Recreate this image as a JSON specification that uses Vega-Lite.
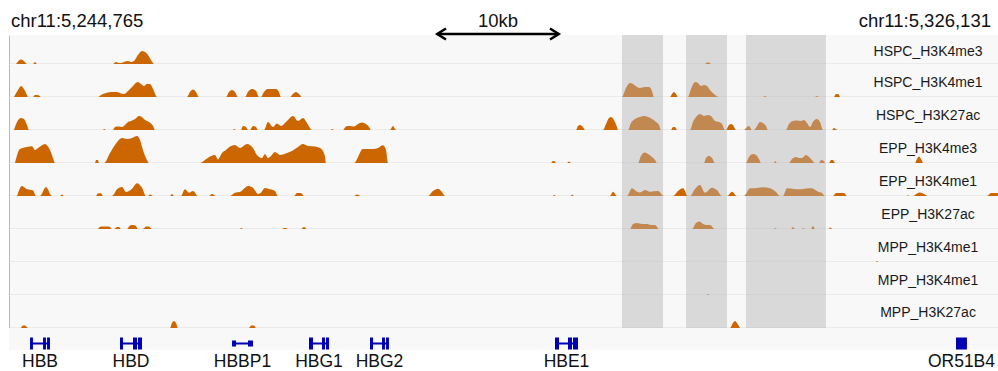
{
  "$schema": "https://vega.github.io/schema/vega-lite/v6.json",
  "background": "white",
  "padding": {"left": 9, "top": 0, "right": 0, "bottom": 0},
  "config": {
    "view": {"stroke": null},
    "font": "Liberation Sans",
    "text": {"font": "Liberation Sans"},
    "axis": {"ticks": false, "labels": false, "grid": false, "domain": true},
    "axisX": {"domainColor": "#c4c4c4", "domainWidth": 1.5},
    "axisY": {"domainColor": "#b8b8b8", "domainWidth": 1},
    "area": {"interpolate": "monotone", "color": "#cc6600", "opacity": 1}
  },
  "datasets": {
    "highlights": [
      {"start": 50.43, "end": 53.81},
      {"start": 55.70, "end": 59.07},
      {"start": 60.63, "end": 67.21}
    ],
    "scalebar": [{"bar": "10kb", "start": 35.23, "end": 45.23}],
    "labels": [
      {"r": 1, "label": "HSPC_H3K4me3"},
      {"r": 2, "label": "HSPC_H3K4me1"},
      {"r": 3, "label": "HSPC_H3K27ac"},
      {"r": 4, "label": "EPP_H3K4me3"},
      {"r": 5, "label": "EPP_H3K4me1"},
      {"r": 6, "label": "EPP_H3K27ac"},
      {"r": 7, "label": "MPP_H3K4me1"},
      {"r": 8, "label": "MPP_H3K4me1"},
      {"r": 9, "label": "MPP_H3K27ac"}
    ],
    "genes": [
      {"gene": "HBB", "start": 1.73, "end": 3.37},
      {"gene": "HBD", "start": 9.13, "end": 10.94},
      {"gene": "HBBP1", "start": 18.35, "end": 20.07},
      {"gene": "HBG1", "start": 24.68, "end": 26.33},
      {"gene": "HBG2", "start": 29.70, "end": 31.26},
      {"gene": "HBE1", "start": 44.92, "end": 46.81},
      {"gene": "OR51B4", "start": 77.91, "end": 78.81}
    ],
    "exons": [
      {"gene": "HBB", "start": 1.73, "end": 1.97, "pseudo": false},
      {"gene": "HBB", "start": 2.80, "end": 3.04, "pseudo": false},
      {"gene": "HBB", "start": 3.13, "end": 3.37, "pseudo": false},
      {"gene": "HBD", "start": 9.13, "end": 9.38, "pseudo": false},
      {"gene": "HBD", "start": 10.20, "end": 10.53, "pseudo": false},
      {"gene": "HBD", "start": 10.61, "end": 10.94, "pseudo": false},
      {"gene": "HBBP1", "start": 18.35, "end": 18.68, "pseudo": true},
      {"gene": "HBBP1", "start": 19.66, "end": 20.07, "pseudo": true},
      {"gene": "HBG1", "start": 24.68, "end": 25.01, "pseudo": false},
      {"gene": "HBG1", "start": 25.75, "end": 26.00, "pseudo": false},
      {"gene": "HBG1", "start": 26.08, "end": 26.33, "pseudo": false},
      {"gene": "HBG2", "start": 29.70, "end": 29.95, "pseudo": false},
      {"gene": "HBG2", "start": 30.69, "end": 30.93, "pseudo": false},
      {"gene": "HBG2", "start": 31.02, "end": 31.26, "pseudo": false},
      {"gene": "HBE1", "start": 44.92, "end": 45.25, "pseudo": false},
      {"gene": "HBE1", "start": 45.99, "end": 46.32, "pseudo": false},
      {"gene": "HBE1", "start": 46.40, "end": 46.81, "pseudo": false},
      {"gene": "OR51B4", "start": 77.91, "end": 78.81, "pseudo": false}
    ],
    "sig": [
      {"r":1,"kb":0.58,"v":0},{"r":1,"kb":0.82,"v":3.5},{"r":1,"kb":0.99,"v":4.5},{"r":1,"kb":1.23,"v":3},{"r":1,"kb":1.48,"v":0},
      {"r":1,"kb":1.97,"v":0},{"r":1,"kb":2.14,"v":2},{"r":1,"kb":2.30,"v":0},
      {"r":1,"kb":8.56,"v":0},{"r":1,"kb":8.80,"v":2},{"r":1,"kb":9.05,"v":1},{"r":1,"kb":9.21,"v":1},{"r":1,"kb":9.54,"v":2.5},{"r":1,"kb":9.79,"v":3},{"r":1,"kb":10.04,"v":2},{"r":1,"kb":10.28,"v":3},{"r":1,"kb":10.61,"v":9},{"r":1,"kb":10.94,"v":13},{"r":1,"kb":11.19,"v":12},{"r":1,"kb":11.44,"v":9},{"r":1,"kb":11.68,"v":4},{"r":1,"kb":11.93,"v":0},
      {"r":1,"kb":57.26,"v":0},{"r":1,"kb":57.42,"v":1.5},{"r":1,"kb":57.59,"v":1.5},{"r":1,"kb":57.75,"v":0},

      {"r":2,"kb":0.41,"v":0},{"r":2,"kb":0.74,"v":7},{"r":2,"kb":0.99,"v":11},{"r":2,"kb":1.23,"v":8},{"r":2,"kb":1.48,"v":2},{"r":2,"kb":1.56,"v":0},
      {"r":2,"kb":1.97,"v":0},{"r":2,"kb":2.14,"v":2},{"r":2,"kb":2.47,"v":1.5},{"r":2,"kb":2.63,"v":0},
      {"r":2,"kb":7.32,"v":0},{"r":2,"kb":7.57,"v":2},{"r":2,"kb":7.98,"v":4},{"r":2,"kb":8.47,"v":5},{"r":2,"kb":8.89,"v":5},{"r":2,"kb":9.21,"v":3.5},{"r":2,"kb":9.46,"v":3},{"r":2,"kb":9.79,"v":6},{"r":2,"kb":10.12,"v":10},{"r":2,"kb":10.61,"v":15},{"r":2,"kb":10.86,"v":13},{"r":2,"kb":11.11,"v":11},{"r":2,"kb":11.35,"v":13},{"r":2,"kb":11.60,"v":13},{"r":2,"kb":11.85,"v":8},{"r":2,"kb":12.18,"v":0},
      {"r":2,"kb":14.64,"v":0},{"r":2,"kb":14.89,"v":5},{"r":2,"kb":15.14,"v":7.5},{"r":2,"kb":15.38,"v":5},{"r":2,"kb":15.63,"v":0},
      {"r":2,"kb":17.85,"v":0},{"r":2,"kb":18.10,"v":5},{"r":2,"kb":18.35,"v":7},{"r":2,"kb":18.59,"v":5},{"r":2,"kb":18.84,"v":0},
      {"r":2,"kb":19.42,"v":0},{"r":2,"kb":19.66,"v":5},{"r":2,"kb":19.99,"v":8},{"r":2,"kb":20.32,"v":6},{"r":2,"kb":20.57,"v":0},
      {"r":2,"kb":20.73,"v":0},{"r":2,"kb":20.98,"v":5},{"r":2,"kb":21.31,"v":8},{"r":2,"kb":21.64,"v":8},{"r":2,"kb":21.97,"v":8},{"r":2,"kb":22.21,"v":5},{"r":2,"kb":22.38,"v":0},
      {"r":2,"kb":23.12,"v":0},{"r":2,"kb":23.36,"v":3},{"r":2,"kb":23.61,"v":5},{"r":2,"kb":23.86,"v":3},{"r":2,"kb":24.10,"v":0},
      {"r":2,"kb":50.43,"v":0},{"r":2,"kb":50.76,"v":9},{"r":2,"kb":51.09,"v":14},{"r":2,"kb":51.34,"v":13},{"r":2,"kb":51.67,"v":10},{"r":2,"kb":51.91,"v":9},{"r":2,"kb":52.32,"v":10},{"r":2,"kb":52.65,"v":10},{"r":2,"kb":52.90,"v":6},{"r":2,"kb":53.06,"v":0},
      {"r":2,"kb":54.38,"v":0},{"r":2,"kb":54.55,"v":3},{"r":2,"kb":54.71,"v":5},{"r":2,"kb":54.87,"v":3},{"r":2,"kb":55.04,"v":0},
      {"r":2,"kb":55.86,"v":0},{"r":2,"kb":56.11,"v":8},{"r":2,"kb":56.44,"v":15},{"r":2,"kb":56.68,"v":14},{"r":2,"kb":56.93,"v":11},{"r":2,"kb":57.18,"v":12},{"r":2,"kb":57.42,"v":11},{"r":2,"kb":57.67,"v":7},{"r":2,"kb":58.00,"v":3},{"r":2,"kb":58.41,"v":0},
      {"r":2,"kb":62.03,"v":0},{"r":2,"kb":62.20,"v":1},{"r":2,"kb":62.36,"v":0},
      {"r":2,"kb":66.31,"v":0},{"r":2,"kb":66.47,"v":1},{"r":2,"kb":66.64,"v":0},
      {"r":2,"kb":67.87,"v":0},{"r":2,"kb":68.04,"v":3},{"r":2,"kb":68.20,"v":3},{"r":2,"kb":68.37,"v":0},

      {"r":3,"kb":0.41,"v":0},{"r":3,"kb":0.66,"v":8},{"r":3,"kb":0.99,"v":12},{"r":3,"kb":1.23,"v":11},{"r":3,"kb":1.48,"v":5},{"r":3,"kb":1.65,"v":0},
      {"r":3,"kb":7.73,"v":0},{"r":3,"kb":7.82,"v":1},{"r":3,"kb":7.98,"v":0},
      {"r":3,"kb":8.56,"v":0},{"r":3,"kb":8.72,"v":3},{"r":3,"kb":9.05,"v":3.5},{"r":3,"kb":9.30,"v":3},{"r":3,"kb":9.54,"v":5},{"r":3,"kb":9.79,"v":8},{"r":3,"kb":10.04,"v":9},{"r":3,"kb":10.37,"v":11},{"r":3,"kb":10.70,"v":14},{"r":3,"kb":10.94,"v":13},{"r":3,"kb":11.19,"v":10},{"r":3,"kb":11.52,"v":8},{"r":3,"kb":11.85,"v":4},{"r":3,"kb":12.01,"v":0},
      {"r":3,"kb":18.43,"v":0},{"r":3,"kb":18.51,"v":1},{"r":3,"kb":18.68,"v":0},
      {"r":3,"kb":19.09,"v":0},{"r":3,"kb":19.25,"v":4},{"r":3,"kb":19.50,"v":3},{"r":3,"kb":19.66,"v":0},
      {"r":3,"kb":19.83,"v":0},{"r":3,"kb":20.07,"v":4},{"r":3,"kb":20.32,"v":3},{"r":3,"kb":20.48,"v":0},
      {"r":3,"kb":20.98,"v":0},{"r":3,"kb":21.31,"v":8},{"r":3,"kb":21.72,"v":3},{"r":3,"kb":22.05,"v":6.5},{"r":3,"kb":22.38,"v":4},{"r":3,"kb":22.87,"v":9},{"r":3,"kb":23.36,"v":14},{"r":3,"kb":23.78,"v":9},{"r":3,"kb":24.19,"v":12},{"r":3,"kb":24.52,"v":7},{"r":3,"kb":24.93,"v":0},
      {"r":3,"kb":26.49,"v":0},{"r":3,"kb":26.57,"v":1},{"r":3,"kb":26.74,"v":0},
      {"r":3,"kb":27.48,"v":0},{"r":3,"kb":27.72,"v":3.5},{"r":3,"kb":28.05,"v":4},{"r":3,"kb":28.38,"v":3.5},{"r":3,"kb":28.71,"v":6},{"r":3,"kb":29.04,"v":7.5},{"r":3,"kb":29.37,"v":6},{"r":3,"kb":29.62,"v":3},{"r":3,"kb":29.78,"v":0},
      {"r":3,"kb":31.34,"v":0},{"r":3,"kb":31.59,"v":4},{"r":3,"kb":31.84,"v":0},
      {"r":3,"kb":46.65,"v":0},{"r":3,"kb":46.81,"v":4},{"r":3,"kb":46.98,"v":5},{"r":3,"kb":47.22,"v":3},{"r":3,"kb":47.39,"v":0},
      {"r":3,"kb":48.87,"v":0},{"r":3,"kb":49.12,"v":6},{"r":3,"kb":49.36,"v":12},{"r":3,"kb":49.53,"v":13},{"r":3,"kb":49.77,"v":10},{"r":3,"kb":50.02,"v":3},{"r":3,"kb":50.10,"v":0},
      {"r":3,"kb":50.93,"v":0},{"r":3,"kb":51.17,"v":7},{"r":3,"kb":51.50,"v":11},{"r":3,"kb":51.91,"v":13},{"r":3,"kb":52.24,"v":14},{"r":3,"kb":52.57,"v":13},{"r":3,"kb":52.90,"v":11},{"r":3,"kb":53.23,"v":8},{"r":3,"kb":53.48,"v":5},{"r":3,"kb":53.64,"v":0},
      {"r":3,"kb":54.46,"v":0},{"r":3,"kb":54.63,"v":3},{"r":3,"kb":54.79,"v":3},{"r":3,"kb":54.96,"v":0},
      {"r":3,"kb":56.03,"v":0},{"r":3,"kb":56.27,"v":8},{"r":3,"kb":56.60,"v":14},{"r":3,"kb":56.85,"v":16},{"r":3,"kb":57.18,"v":14},{"r":3,"kb":57.51,"v":15},{"r":3,"kb":57.75,"v":14},{"r":3,"kb":58.08,"v":9},{"r":3,"kb":58.41,"v":8},{"r":3,"kb":58.66,"v":6},{"r":3,"kb":58.91,"v":0},
      {"r":3,"kb":58.99,"v":0},{"r":3,"kb":59.23,"v":5},{"r":3,"kb":59.40,"v":6},{"r":3,"kb":59.56,"v":5},{"r":3,"kb":59.81,"v":0},
      {"r":3,"kb":60.47,"v":0},{"r":3,"kb":60.72,"v":3},{"r":3,"kb":60.88,"v":4},{"r":3,"kb":61.13,"v":0},
      {"r":3,"kb":61.29,"v":0},{"r":3,"kb":61.54,"v":4},{"r":3,"kb":61.78,"v":8},{"r":3,"kb":62.03,"v":7},{"r":3,"kb":62.28,"v":4},{"r":3,"kb":62.44,"v":0},
      {"r":3,"kb":63.92,"v":0},{"r":3,"kb":64.17,"v":6},{"r":3,"kb":64.50,"v":9},{"r":3,"kb":64.83,"v":9.5},{"r":3,"kb":65.16,"v":9},{"r":3,"kb":65.40,"v":10},{"r":3,"kb":65.65,"v":7},{"r":3,"kb":65.90,"v":3},{"r":3,"kb":66.14,"v":8},{"r":3,"kb":66.47,"v":11},{"r":3,"kb":66.72,"v":8},{"r":3,"kb":66.97,"v":0},
      {"r":3,"kb":67.71,"v":0},{"r":3,"kb":67.87,"v":2},{"r":3,"kb":68.12,"v":0},

      {"r":4,"kb":0.49,"v":0},{"r":4,"kb":0.90,"v":14},{"r":4,"kb":1.48,"v":16},{"r":4,"kb":1.89,"v":16.7},{"r":4,"kb":2.14,"v":13},{"r":4,"kb":2.39,"v":15},{"r":4,"kb":2.96,"v":19},{"r":4,"kb":3.37,"v":13},{"r":4,"kb":3.62,"v":5},{"r":4,"kb":3.78,"v":0},
      {"r":4,"kb":7.08,"v":0},{"r":4,"kb":7.16,"v":3},{"r":4,"kb":7.32,"v":3},{"r":4,"kb":7.40,"v":0},
      {"r":4,"kb":7.82,"v":0},{"r":4,"kb":8.31,"v":10},{"r":4,"kb":8.72,"v":18},{"r":4,"kb":9.30,"v":25},{"r":4,"kb":9.71,"v":24},{"r":4,"kb":10.12,"v":25},{"r":4,"kb":10.53,"v":27},{"r":4,"kb":10.78,"v":23},{"r":4,"kb":11.02,"v":13},{"r":4,"kb":11.35,"v":3},{"r":4,"kb":11.52,"v":0},
      {"r":4,"kb":15.71,"v":0},{"r":4,"kb":16.12,"v":3},{"r":4,"kb":16.54,"v":6.5},{"r":4,"kb":16.95,"v":8},{"r":4,"kb":17.19,"v":3.5},{"r":4,"kb":17.52,"v":10},{"r":4,"kb":17.85,"v":13},{"r":4,"kb":18.18,"v":16.5},{"r":4,"kb":18.59,"v":18},{"r":4,"kb":19.00,"v":15},{"r":4,"kb":19.58,"v":19},{"r":4,"kb":20.07,"v":15},{"r":4,"kb":20.40,"v":8},{"r":4,"kb":20.81,"v":5},{"r":4,"kb":21.06,"v":9},{"r":4,"kb":21.31,"v":5},{"r":4,"kb":21.55,"v":7},{"r":4,"kb":21.88,"v":11},{"r":4,"kb":22.30,"v":8},{"r":4,"kb":22.87,"v":10},{"r":4,"kb":23.28,"v":12},{"r":4,"kb":23.78,"v":16},{"r":4,"kb":24.19,"v":19},{"r":4,"kb":24.60,"v":17},{"r":4,"kb":25.17,"v":16.5},{"r":4,"kb":25.59,"v":15},{"r":4,"kb":25.83,"v":12},{"r":4,"kb":26.00,"v":6},{"r":4,"kb":26.08,"v":0},
      {"r":4,"kb":28.38,"v":0},{"r":4,"kb":29.12,"v":14},{"r":4,"kb":29.95,"v":14},{"r":4,"kb":30.36,"v":15},{"r":4,"kb":30.77,"v":17.7},{"r":4,"kb":31.02,"v":13},{"r":4,"kb":31.18,"v":0},
      {"r":4,"kb":44.59,"v":0},{"r":4,"kb":44.75,"v":2},{"r":4,"kb":44.92,"v":1.5},{"r":4,"kb":45.00,"v":0},
      {"r":4,"kb":45.91,"v":0},{"r":4,"kb":46.07,"v":1.5},{"r":4,"kb":46.24,"v":0},
      {"r":4,"kb":51.75,"v":0},{"r":4,"kb":51.99,"v":7},{"r":4,"kb":52.32,"v":10.5},{"r":4,"kb":52.57,"v":9},{"r":4,"kb":52.90,"v":6},{"r":4,"kb":53.15,"v":3},{"r":4,"kb":53.31,"v":0},
      {"r":4,"kb":57.18,"v":0},{"r":4,"kb":57.34,"v":5},{"r":4,"kb":57.59,"v":7},{"r":4,"kb":57.84,"v":5},{"r":4,"kb":58.08,"v":0},
      {"r":4,"kb":60.63,"v":0},{"r":4,"kb":60.88,"v":6},{"r":4,"kb":61.21,"v":9},{"r":4,"kb":61.46,"v":8},{"r":4,"kb":61.70,"v":4},{"r":4,"kb":61.87,"v":0},
      {"r":4,"kb":62.94,"v":0},{"r":4,"kb":63.02,"v":2},{"r":4,"kb":63.18,"v":0},
      {"r":4,"kb":64.17,"v":0},{"r":4,"kb":64.42,"v":4},{"r":4,"kb":64.75,"v":6},{"r":4,"kb":64.99,"v":5},{"r":4,"kb":65.24,"v":5},{"r":4,"kb":65.57,"v":8},{"r":4,"kb":65.82,"v":6},{"r":4,"kb":66.06,"v":3},{"r":4,"kb":66.31,"v":0},
      {"r":4,"kb":66.64,"v":0},{"r":4,"kb":66.80,"v":3},{"r":4,"kb":67.05,"v":2},{"r":4,"kb":67.13,"v":0},
      {"r":4,"kb":67.46,"v":0},{"r":4,"kb":67.63,"v":3},{"r":4,"kb":67.79,"v":3},{"r":4,"kb":67.96,"v":0},
      {"r":4,"kb":74.54,"v":0},{"r":4,"kb":74.70,"v":4},{"r":4,"kb":74.87,"v":6.5},{"r":4,"kb":75.03,"v":4},{"r":4,"kb":75.19,"v":0},

      {"r":5,"kb":0.66,"v":0},{"r":5,"kb":1.07,"v":10},{"r":5,"kb":1.48,"v":6.7},{"r":5,"kb":1.97,"v":5.7},{"r":5,"kb":2.22,"v":0},
      {"r":5,"kb":2.55,"v":0},{"r":5,"kb":3.04,"v":9},{"r":5,"kb":3.54,"v":0},
      {"r":5,"kb":4.20,"v":0},{"r":5,"kb":4.36,"v":1.5},{"r":5,"kb":4.52,"v":0},
      {"r":5,"kb":7.16,"v":0},{"r":5,"kb":7.32,"v":2.7},{"r":5,"kb":7.57,"v":2.7},{"r":5,"kb":7.73,"v":0},
      {"r":5,"kb":8.47,"v":0},{"r":5,"kb":8.89,"v":6.7},{"r":5,"kb":9.30,"v":9},{"r":5,"kb":9.63,"v":4},{"r":5,"kb":10.12,"v":7.3},{"r":5,"kb":10.53,"v":12.7},{"r":5,"kb":10.94,"v":8.3},{"r":5,"kb":11.27,"v":0},
      {"r":5,"kb":11.44,"v":0},{"r":5,"kb":11.60,"v":1.5},{"r":5,"kb":11.85,"v":0},
      {"r":5,"kb":13.25,"v":0},{"r":5,"kb":13.41,"v":2},{"r":5,"kb":13.57,"v":0},
      {"r":5,"kb":14.15,"v":0},{"r":5,"kb":14.48,"v":6.7},{"r":5,"kb":14.81,"v":3.3},{"r":5,"kb":15.14,"v":5},{"r":5,"kb":15.55,"v":0},
      {"r":5,"kb":16.45,"v":0},{"r":5,"kb":16.70,"v":2},{"r":5,"kb":17.03,"v":0},
      {"r":5,"kb":18.18,"v":0},{"r":5,"kb":18.59,"v":3.3},{"r":5,"kb":19.00,"v":4},{"r":5,"kb":19.42,"v":8.3},{"r":5,"kb":19.66,"v":10},{"r":5,"kb":20.07,"v":8.3},{"r":5,"kb":20.48,"v":2},{"r":5,"kb":20.73,"v":3.3},{"r":5,"kb":21.06,"v":8},{"r":5,"kb":21.47,"v":6.7},{"r":5,"kb":21.88,"v":5},{"r":5,"kb":22.13,"v":0},
      {"r":5,"kb":23.45,"v":0},{"r":5,"kb":23.69,"v":3},{"r":5,"kb":24.02,"v":3},{"r":5,"kb":24.27,"v":0},
      {"r":5,"kb":28.38,"v":0},{"r":5,"kb":28.63,"v":1.5},{"r":5,"kb":28.96,"v":0},
      {"r":5,"kb":34.47,"v":0},{"r":5,"kb":34.88,"v":5},{"r":5,"kb":35.29,"v":7.3},{"r":5,"kb":35.62,"v":4},{"r":5,"kb":35.87,"v":0},
      {"r":5,"kb":44.75,"v":0},{"r":5,"kb":44.84,"v":1},{"r":5,"kb":45.00,"v":0},
      {"r":5,"kb":46.24,"v":0},{"r":5,"kb":46.32,"v":1.5},{"r":5,"kb":46.48,"v":0},
      {"r":5,"kb":49.44,"v":0},{"r":5,"kb":49.69,"v":4.3},{"r":5,"kb":50.02,"v":0},
      {"r":5,"kb":50.84,"v":0},{"r":5,"kb":51.25,"v":7.7},{"r":5,"kb":51.67,"v":4.3},{"r":5,"kb":51.91,"v":3.5},{"r":5,"kb":52.32,"v":6},{"r":5,"kb":52.74,"v":4.3},{"r":5,"kb":53.39,"v":5},{"r":5,"kb":53.89,"v":0},
      {"r":5,"kb":54.63,"v":0},{"r":5,"kb":55.04,"v":5},{"r":5,"kb":55.45,"v":7.7},{"r":5,"kb":55.86,"v":0},
      {"r":5,"kb":56.03,"v":0},{"r":5,"kb":56.44,"v":7},{"r":5,"kb":56.85,"v":11},{"r":5,"kb":57.26,"v":3.3},{"r":5,"kb":57.84,"v":8.3},{"r":5,"kb":58.24,"v":6},{"r":5,"kb":58.66,"v":0},
      {"r":5,"kb":59.07,"v":0},{"r":5,"kb":59.48,"v":4.3},{"r":5,"kb":59.89,"v":0},
      {"r":5,"kb":60.47,"v":0},{"r":5,"kb":60.96,"v":7.7},{"r":5,"kb":61.54,"v":8},{"r":5,"kb":62.03,"v":8.7},{"r":5,"kb":62.61,"v":7.7},{"r":5,"kb":63.10,"v":4},{"r":5,"kb":63.43,"v":0},
      {"r":5,"kb":63.68,"v":0},{"r":5,"kb":64.01,"v":7.7},{"r":5,"kb":64.58,"v":7},{"r":5,"kb":65.08,"v":6.7},{"r":5,"kb":65.57,"v":7.5},{"r":5,"kb":66.06,"v":7.7},{"r":5,"kb":66.56,"v":4.3},{"r":5,"kb":66.89,"v":3},{"r":5,"kb":67.13,"v":0},
      {"r":5,"kb":67.79,"v":0},{"r":5,"kb":68.04,"v":3},{"r":5,"kb":68.70,"v":3},{"r":5,"kb":68.94,"v":0},
      {"r":5,"kb":73.88,"v":0},{"r":5,"kb":73.96,"v":1},{"r":5,"kb":74.04,"v":0},
      {"r":5,"kb":74.37,"v":0},{"r":5,"kb":74.70,"v":2.5},{"r":5,"kb":74.95,"v":3.5},{"r":5,"kb":75.28,"v":2},{"r":5,"kb":75.61,"v":0},
      {"r":5,"kb":80.46,"v":0},{"r":5,"kb":80.79,"v":3},{"r":5,"kb":81.36,"v":3},

      {"r":6,"kb":7.32,"v":0},{"r":6,"kb":7.57,"v":2.5},{"r":6,"kb":7.98,"v":2.5},{"r":6,"kb":8.31,"v":2},{"r":6,"kb":8.47,"v":0},
      {"r":6,"kb":8.64,"v":0},{"r":6,"kb":8.89,"v":2},{"r":6,"kb":9.05,"v":2},{"r":6,"kb":9.21,"v":0},
      {"r":6,"kb":9.71,"v":0},{"r":6,"kb":9.95,"v":3.5},{"r":6,"kb":10.20,"v":4},{"r":6,"kb":10.45,"v":3},{"r":6,"kb":10.61,"v":0},
      {"r":6,"kb":11.02,"v":0},{"r":6,"kb":11.27,"v":2.5},{"r":6,"kb":11.52,"v":2.5},{"r":6,"kb":11.76,"v":0},
      {"r":6,"kb":19.00,"v":0},{"r":6,"kb":19.09,"v":1},{"r":6,"kb":19.25,"v":0},
      {"r":6,"kb":22.46,"v":0},{"r":6,"kb":22.62,"v":1},{"r":6,"kb":22.79,"v":1},{"r":6,"kb":22.95,"v":0},
      {"r":6,"kb":24.02,"v":0},{"r":6,"kb":24.27,"v":2},{"r":6,"kb":24.52,"v":0},
      {"r":6,"kb":51.09,"v":0},{"r":6,"kb":51.34,"v":5},{"r":6,"kb":51.67,"v":6},{"r":6,"kb":52.08,"v":5},{"r":6,"kb":52.49,"v":5},{"r":6,"kb":52.82,"v":4},{"r":6,"kb":53.15,"v":4},{"r":6,"kb":53.48,"v":0},
      {"r":6,"kb":56.19,"v":0},{"r":6,"kb":56.52,"v":6},{"r":6,"kb":56.77,"v":7.5},{"r":6,"kb":57.10,"v":5},{"r":6,"kb":57.42,"v":4},{"r":6,"kb":57.67,"v":4},{"r":6,"kb":58.08,"v":0},
      {"r":6,"kb":62.94,"v":0},{"r":6,"kb":63.02,"v":1},{"r":6,"kb":63.18,"v":0},
      {"r":6,"kb":64.34,"v":0},{"r":6,"kb":64.50,"v":2},{"r":6,"kb":64.66,"v":0},
      {"r":6,"kb":65.24,"v":0},{"r":6,"kb":65.32,"v":1},{"r":6,"kb":65.49,"v":0},
      {"r":6,"kb":65.98,"v":0},{"r":6,"kb":66.14,"v":3},{"r":6,"kb":66.31,"v":0},
      {"r":6,"kb":67.46,"v":0},{"r":6,"kb":67.54,"v":1.5},{"r":6,"kb":67.71,"v":0},

      {"r":7,"kb":71.33,"v":0},{"r":7,"kb":71.41,"v":1},{"r":7,"kb":71.49,"v":0},

      {"r":8,"kb":57.42,"v":0},{"r":8,"kb":57.51,"v":1},{"r":8,"kb":57.59,"v":0},

      {"r":9,"kb":0.99,"v":0},{"r":9,"kb":1.15,"v":2.5},{"r":9,"kb":1.32,"v":2.5},{"r":9,"kb":1.56,"v":0},
      {"r":9,"kb":13.25,"v":0},{"r":9,"kb":13.41,"v":5},{"r":9,"kb":13.57,"v":7},{"r":9,"kb":13.74,"v":5},{"r":9,"kb":13.90,"v":0},
      {"r":9,"kb":19.74,"v":0},{"r":9,"kb":19.91,"v":2.5},{"r":9,"kb":20.16,"v":2.5},{"r":9,"kb":20.32,"v":0},
      {"r":9,"kb":59.32,"v":0},{"r":9,"kb":59.56,"v":5},{"r":9,"kb":59.73,"v":7},{"r":9,"kb":59.89,"v":5},{"r":9,"kb":60.14,"v":0}
    ]
  },
  "spacing": 0,
  "bounds": "flush",
  "resolve": {"scale": {"x": "independent", "y": "independent"}},
  "vconcat": [
    {
      "width": 989, "height": 35,
      "view": {"fill": "white", "stroke": null},
      "layer": [
        {
          "data": {"values": [{"label": "chr11:5,244,765", "kb": 0}]},
          "mark": {"type": "text", "align": "left", "baseline": "alphabetic", "fontSize": 18.5, "dx": 2, "color": "#111111"},
          "encoding": {
            "x": {"field": "kb", "type": "quantitative", "scale": {"domain": [0, 81.366], "nice": false, "zero": false}, "axis": null},
            "y": {"datum": 8.3, "type": "quantitative", "scale": {"domain": [0, 35], "nice": false, "zero": false}, "axis": null},
            "text": {"field": "label"}
          }
        },
        {
          "data": {"values": [{"label": "chr11:5,326,131", "kb": 81.366}]},
          "mark": {"type": "text", "align": "right", "baseline": "alphabetic", "fontSize": 18.5, "dx": -7, "color": "#111111"},
          "encoding": {
            "x": {"field": "kb", "type": "quantitative"},
            "y": {"datum": 8.3, "type": "quantitative"},
            "text": {"field": "label"}
          }
        }
      ]
    },
    {
      "width": 989, "height": 29,
      "view": {"fill": "#f8f8f8", "stroke": null},
      "layer": [
        {"data": {"name": "sig"}, "transform": [{"filter": "datum.r == 1"}], "mark": "area",
         "encoding": {"x": {"field": "kb", "type": "quantitative", "scale": {"domain": [0, 81.366], "nice": false, "zero": false}, "axis": {"title": null}},
                      "y": {"field": "v", "type": "quantitative", "scale": {"domain": [0, 29], "nice": false}, "axis": {"title": null}}}},
        {"data": {"name": "highlights"}, "mark": {"type": "rect", "color": "#b3b3b3", "opacity": 0.45},
         "encoding": {"x": {"field": "start", "type": "quantitative"}, "x2": {"field": "end"}}},
        {"data": {"name": "labels"}, "transform": [{"filter": "datum.r == 1"}], "mark": {"type": "text", "align": "center", "baseline": "middle", "fontSize": 14, "color": "#1a1a1a"},
         "encoding": {"x": {"datum": 75.61, "type": "quantitative"}, "y": {"datum": 12, "type": "quantitative"}, "text": {"field": "label"}}},
        {"data": {"name": "scalebar"}, "mark": {"type": "rule", "color": "black", "strokeWidth": 2.5},
         "encoding": {"x": {"field": "start", "type": "quantitative"}, "x2": {"field": "end"}, "y": {"datum": 30, "type": "quantitative"}}},
        {"data": {"name": "scalebar"}, "mark": {"type": "point", "shape": "M1.6,-1L0,0L1.6,1", "size": 121, "filled": false, "color": "black", "strokeWidth": 2.5, "opacity": 1},
         "encoding": {"x": {"field": "start", "type": "quantitative"}, "y": {"datum": 30, "type": "quantitative"}}},
        {"data": {"name": "scalebar"}, "mark": {"type": "point", "shape": "M-1.6,-1L0,0L-1.6,1", "size": 121, "filled": false, "color": "black", "strokeWidth": 2.5, "opacity": 1},
         "encoding": {"x": {"field": "end", "type": "quantitative"}, "y": {"datum": 30, "type": "quantitative"}}},
        {"data": {"name": "scalebar"},
         "transform": [{"fold": ["start", "end"], "as": ["edge", "pos"]}, {"aggregate": [{"op": "mean", "field": "pos", "as": "mid"}], "groupby": ["bar"]}],
         "mark": {"type": "text", "align": "center", "baseline": "alphabetic", "fontSize": 18.5, "color": "#111111"},
         "encoding": {"x": {"field": "mid", "type": "quantitative"}, "y": {"datum": 37.3, "type": "quantitative"}, "text": {"field": "bar"}}}
      ]
    },
    {
      "width": 989, "height": 33,
      "view": {"fill": "#f8f8f8", "stroke": null},
      "layer": [
        {"data": {"name": "sig"}, "transform": [{"filter": "datum.r == 2"}], "mark": "area",
         "encoding": {"x": {"field": "kb", "type": "quantitative", "scale": {"domain": [0, 81.366], "nice": false, "zero": false}, "axis": {"title": null}},
                      "y": {"field": "v", "type": "quantitative", "scale": {"domain": [0, 33], "nice": false}, "axis": {"title": null}}}},
        {"data": {"name": "highlights"}, "mark": {"type": "rect", "color": "#b3b3b3", "opacity": 0.45},
         "encoding": {"x": {"field": "start", "type": "quantitative"}, "x2": {"field": "end"}}},
        {"data": {"name": "labels"}, "transform": [{"filter": "datum.r == 2"}], "mark": {"type": "text", "align": "center", "baseline": "middle", "fontSize": 14, "color": "#1a1a1a"},
         "encoding": {"x": {"datum": 75.61, "type": "quantitative"}, "y": {"datum": 14.5, "type": "quantitative"}, "text": {"field": "label"}}}
      ]
    },
    {
      "width": 989, "height": 33,
      "view": {"fill": "#f8f8f8", "stroke": null},
      "layer": [
        {"data": {"name": "sig"}, "transform": [{"filter": "datum.r == 3"}], "mark": "area",
         "encoding": {"x": {"field": "kb", "type": "quantitative", "scale": {"domain": [0, 81.366], "nice": false, "zero": false}, "axis": {"title": null}},
                      "y": {"field": "v", "type": "quantitative", "scale": {"domain": [0, 33], "nice": false}, "axis": {"title": null}}}},
        {"data": {"name": "highlights"}, "mark": {"type": "rect", "color": "#b3b3b3", "opacity": 0.45},
         "encoding": {"x": {"field": "start", "type": "quantitative"}, "x2": {"field": "end"}}},
        {"data": {"name": "labels"}, "transform": [{"filter": "datum.r == 3"}], "mark": {"type": "text", "align": "center", "baseline": "middle", "fontSize": 14, "color": "#1a1a1a"},
         "encoding": {"x": {"datum": 75.61, "type": "quantitative"}, "y": {"datum": 14.5, "type": "quantitative"}, "text": {"field": "label"}}}
      ]
    },
    {
      "width": 989, "height": 33,
      "view": {"fill": "#f8f8f8", "stroke": null},
      "layer": [
        {"data": {"name": "sig"}, "transform": [{"filter": "datum.r == 4"}], "mark": "area",
         "encoding": {"x": {"field": "kb", "type": "quantitative", "scale": {"domain": [0, 81.366], "nice": false, "zero": false}, "axis": {"title": null}},
                      "y": {"field": "v", "type": "quantitative", "scale": {"domain": [0, 33], "nice": false}, "axis": {"title": null}}}},
        {"data": {"name": "highlights"}, "mark": {"type": "rect", "color": "#b3b3b3", "opacity": 0.45},
         "encoding": {"x": {"field": "start", "type": "quantitative"}, "x2": {"field": "end"}}},
        {"data": {"name": "labels"}, "transform": [{"filter": "datum.r == 4"}], "mark": {"type": "text", "align": "center", "baseline": "middle", "fontSize": 14, "color": "#1a1a1a"},
         "encoding": {"x": {"datum": 75.61, "type": "quantitative"}, "y": {"datum": 14, "type": "quantitative"}, "text": {"field": "label"}}}
      ]
    },
    {
      "width": 989, "height": 33,
      "view": {"fill": "#f8f8f8", "stroke": null},
      "layer": [
        {"data": {"name": "sig"}, "transform": [{"filter": "datum.r == 5"}], "mark": "area",
         "encoding": {"x": {"field": "kb", "type": "quantitative", "scale": {"domain": [0, 81.366], "nice": false, "zero": false}, "axis": {"title": null}},
                      "y": {"field": "v", "type": "quantitative", "scale": {"domain": [0, 33], "nice": false}, "axis": {"title": null}}}},
        {"data": {"name": "highlights"}, "mark": {"type": "rect", "color": "#b3b3b3", "opacity": 0.45},
         "encoding": {"x": {"field": "start", "type": "quantitative"}, "x2": {"field": "end"}}},
        {"data": {"name": "labels"}, "transform": [{"filter": "datum.r == 5"}], "mark": {"type": "text", "align": "center", "baseline": "middle", "fontSize": 14, "color": "#1a1a1a"},
         "encoding": {"x": {"datum": 75.61, "type": "quantitative"}, "y": {"datum": 14, "type": "quantitative"}, "text": {"field": "label"}}}
      ]
    },
    {
      "width": 989, "height": 33,
      "view": {"fill": "#f8f8f8", "stroke": null},
      "layer": [
        {"data": {"name": "sig"}, "transform": [{"filter": "datum.r == 6"}], "mark": "area",
         "encoding": {"x": {"field": "kb", "type": "quantitative", "scale": {"domain": [0, 81.366], "nice": false, "zero": false}, "axis": {"title": null}},
                      "y": {"field": "v", "type": "quantitative", "scale": {"domain": [0, 33], "nice": false}, "axis": {"title": null}}}},
        {"data": {"name": "highlights"}, "mark": {"type": "rect", "color": "#b3b3b3", "opacity": 0.45},
         "encoding": {"x": {"field": "start", "type": "quantitative"}, "x2": {"field": "end"}}},
        {"data": {"name": "labels"}, "transform": [{"filter": "datum.r == 6"}], "mark": {"type": "text", "align": "center", "baseline": "middle", "fontSize": 14, "color": "#1a1a1a"},
         "encoding": {"x": {"datum": 75.61, "type": "quantitative"}, "y": {"datum": 14, "type": "quantitative"}, "text": {"field": "label"}}}
      ]
    },
    {
      "width": 989, "height": 33,
      "view": {"fill": "#f8f8f8", "stroke": null},
      "layer": [
        {"data": {"name": "sig"}, "transform": [{"filter": "datum.r == 7"}], "mark": "area",
         "encoding": {"x": {"field": "kb", "type": "quantitative", "scale": {"domain": [0, 81.366], "nice": false, "zero": false}, "axis": {"title": null}},
                      "y": {"field": "v", "type": "quantitative", "scale": {"domain": [0, 33], "nice": false}, "axis": {"title": null}}}},
        {"data": {"name": "highlights"}, "mark": {"type": "rect", "color": "#b3b3b3", "opacity": 0.45},
         "encoding": {"x": {"field": "start", "type": "quantitative"}, "x2": {"field": "end"}}},
        {"data": {"name": "labels"}, "transform": [{"filter": "datum.r == 7"}], "mark": {"type": "text", "align": "center", "baseline": "middle", "fontSize": 14, "color": "#1a1a1a"},
         "encoding": {"x": {"datum": 75.61, "type": "quantitative"}, "y": {"datum": 14, "type": "quantitative"}, "text": {"field": "label"}}}
      ]
    },
    {
      "width": 989, "height": 33,
      "view": {"fill": "#f8f8f8", "stroke": null},
      "layer": [
        {"data": {"name": "sig"}, "transform": [{"filter": "datum.r == 8"}], "mark": "area",
         "encoding": {"x": {"field": "kb", "type": "quantitative", "scale": {"domain": [0, 81.366], "nice": false, "zero": false}, "axis": {"title": null}},
                      "y": {"field": "v", "type": "quantitative", "scale": {"domain": [0, 33], "nice": false}, "axis": {"title": null}}}},
        {"data": {"name": "highlights"}, "mark": {"type": "rect", "color": "#b3b3b3", "opacity": 0.45},
         "encoding": {"x": {"field": "start", "type": "quantitative"}, "x2": {"field": "end"}}},
        {"data": {"name": "labels"}, "transform": [{"filter": "datum.r == 8"}], "mark": {"type": "text", "align": "center", "baseline": "middle", "fontSize": 14, "color": "#1a1a1a"},
         "encoding": {"x": {"datum": 75.61, "type": "quantitative"}, "y": {"datum": 14, "type": "quantitative"}, "text": {"field": "label"}}}
      ]
    },
    {
      "width": 989, "height": 33,
      "view": {"fill": "#f8f8f8", "stroke": null},
      "layer": [
        {"data": {"name": "sig"}, "transform": [{"filter": "datum.r == 9"}], "mark": "area",
         "encoding": {"x": {"field": "kb", "type": "quantitative", "scale": {"domain": [0, 81.366], "nice": false, "zero": false}, "axis": {"title": null}},
                      "y": {"field": "v", "type": "quantitative", "scale": {"domain": [0, 33], "nice": false}, "axis": {"title": null}}}},
        {"data": {"name": "highlights"}, "mark": {"type": "rect", "color": "#b3b3b3", "opacity": 0.45},
         "encoding": {"x": {"field": "start", "type": "quantitative"}, "x2": {"field": "end"}}},
        {"data": {"name": "labels"}, "transform": [{"filter": "datum.r == 9"}], "mark": {"type": "text", "align": "center", "baseline": "middle", "fontSize": 14, "color": "#1a1a1a"},
         "encoding": {"x": {"datum": 75.61, "type": "quantitative"}, "y": {"datum": 15, "type": "quantitative"}, "text": {"field": "label"}}}
      ]
    },
    {
      "width": 989, "height": 22,
      "view": {"fill": "#f8f8f8", "stroke": null},
      "layer": [
        {
          "data": {"name": "genes"},
          "mark": {"type": "rule", "color": "#0000b2", "strokeWidth": 2},
          "encoding": {
            "x": {"field": "start", "type": "quantitative", "scale": {"domain": [0, 81.366], "nice": false, "zero": false}, "axis": null},
            "x2": {"field": "end"},
            "y": {"datum": 6.5, "type": "quantitative", "scale": {"domain": [0, 22], "nice": false, "zero": false}, "axis": null}
          }
        },
        {
          "data": {"name": "exons"},
          "transform": [{"filter": "!datum.pseudo"}],
          "mark": {"type": "rect", "color": "#0000b2"},
          "encoding": {
            "x": {"field": "start", "type": "quantitative"},
            "x2": {"field": "end"},
            "y": {"datum": 12.5, "type": "quantitative"},
            "y2": {"datum": 0.5}
          }
        },
        {
          "data": {"name": "exons"},
          "transform": [{"filter": "datum.pseudo"}],
          "mark": {"type": "rect", "color": "#0000b2"},
          "encoding": {
            "x": {"field": "start", "type": "quantitative"},
            "x2": {"field": "end"},
            "y": {"datum": 9.5, "type": "quantitative"},
            "y2": {"datum": 3.5}
          }
        },
        {
          "data": {"name": "genes"},
          "transform": [
            {"fold": ["start", "end"], "as": ["edge", "pos"]},
            {"aggregate": [{"op": "mean", "field": "pos", "as": "mid"}], "groupby": ["gene"]}
          ],
          "mark": {"type": "text", "align": "center", "baseline": "alphabetic", "fontSize": 17.5, "color": "#111111"},
          "encoding": {
            "x": {"field": "mid", "type": "quantitative"},
            "y": {"datum": -16.7, "type": "quantitative"},
            "text": {"field": "gene"}
          }
        }
      ]
    }
  ]
}
